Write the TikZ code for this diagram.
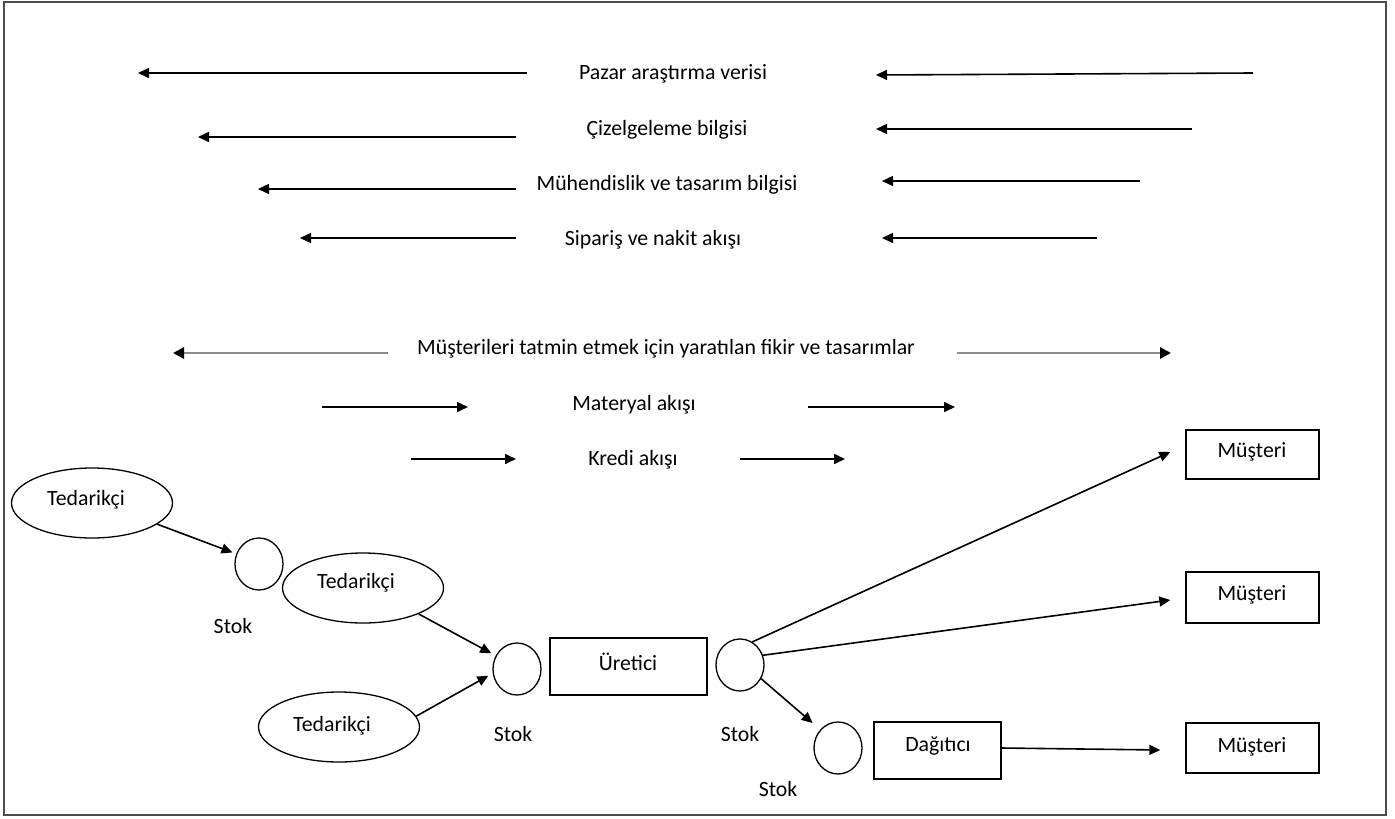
\documentclass[tikz,border=0pt]{standalone}
\usepackage{fontspec}
\setmainfont{Carlito}
\usetikzlibrary{arrows.meta,shapes.geometric}
\begin{document}
\begin{tikzpicture}[x=1pt,y=-1pt,
  every node/.style={font=\fontsize{21.8}{26}\selectfont, inner sep=0pt},
  flow/.style={line width=1.6pt, -{Triangle[length=11pt,width=10pt]}},
  softflow/.style={line width=2.8pt, draw=black!45, -{Triangle[length=11pt,width=11pt,black]}},
  party/.style={draw, ellipse, line width=1.3pt, minimum width=161pt, minimum height=70pt},
  stockpt/.style={draw, ellipse, line width=1.3pt, minimum width=48pt, minimum height=52pt},
  unit/.style={draw, rectangle, line width=1.4pt},
  lbl/.style={anchor=center}
]
\useasboundingbox (0,0) rectangle (1395,819);
\draw[line width=2.6pt, draw=black!70] (4,2) rectangle (1386,815);

% information flows running upstream
\node[lbl] (t1) at (673,74) {Pazar araştırma verisi};
\node[lbl] (t2) at (667,130) {Çizelgeleme bilgisi};
\node[lbl] (t3) at (667,185) {Mühendislik ve tasarım bilgisi};
\node[lbl] (t4) at (653,240) {Sipariş ve nakit akışı};
\coordinate (a1s) at (527,73);  \coordinate (a1e) at (138,73);
\coordinate (b1s) at (1253,73); \coordinate (b1e) at (876,75);
\coordinate (a2s) at (516,137); \coordinate (a2e) at (198,137);
\coordinate (b2s) at (1192,129); \coordinate (b2e) at (876,129);
\coordinate (a3s) at (516,189); \coordinate (a3e) at (258,189);
\coordinate (b3s) at (1140,181); \coordinate (b3e) at (882,181);
\coordinate (a4s) at (516,238); \coordinate (a4e) at (300,238);
\coordinate (b4s) at (1097,238); \coordinate (b4e) at (882,238);
\foreach \k in {1,2,3,4}{
  \draw[flow] (a\k s) -- (a\k e);
  \draw[flow] (b\k s) -- (b\k e);
}

% flows in both directions and downstream
\node[lbl] (t5) at (666,349) {Müşterileri tatmin etmek için yaratılan fikir ve tasarımlar};
\node[lbl] (t6) at (634,405) {Materyal akışı};
\node[lbl] (t7) at (633,460) {Kredi akışı};
\coordinate (c5s) at (388,353); \coordinate (c5e) at (173,353);
\coordinate (d5s) at (957,353); \coordinate (d5e) at (1171,353);
\draw[softflow] (c5s) -- (c5e);
\draw[softflow] (d5s) -- (d5e);
\coordinate (c6s) at (322,407); \coordinate (c6e) at (468,407);
\coordinate (d6s) at (808,407); \coordinate (d6e) at (955,407);
\coordinate (c7s) at (411,459); \coordinate (c7e) at (516,459);
\coordinate (d7s) at (740,459); \coordinate (d7e) at (845,459);
\foreach \k in {6,7}{
  \draw[flow] (c\k s) -- (c\k e);
  \draw[flow] (d\k s) -- (d\k e);
}

% supply chain
\node[party] (ted1) at (92,503) {};
\node at (86,500) {Tedarikçi};
\node[party] (ted2) at (363,588) {};
\node at (356,583) {Tedarikçi};
\node[party] (ted3) at (339,727) {};
\node at (332,726) {Tedarikçi};

\node[stockpt] (s1) at (259,564) {};
\node (s1l) at (233,626) {Stok};
\node[stockpt] (s2) at (517,669) {};
\node (s2l) at (513,734) {Stok};
\node[stockpt] (s3) at (740,665) {};
\node (s3l) at (740,734) {Stok};
\node[stockpt] (s4) at (838,748) {};
\node (s4l) at (778,789) {Stok};

\node[unit, minimum width=157pt, minimum height=57pt] (ur) at (628.5,666.5) {};
\node at (628,662) {Üretici};
\node[unit, minimum width=127pt, minimum height=57pt] (dg) at (937.5,750.5) {};
\node at (938,746) {Dağıtıcı};
\node[unit, minimum width=133pt, minimum height=49pt] (m1) at (1252.5,454.5) {};
\node at (1252,452) {Müşteri};
\node[unit, minimum width=133pt, minimum height=51pt] (m2) at (1252.5,597.5) {};
\node at (1252,595) {Müşteri};
\node[unit, minimum width=133pt, minimum height=50pt] (m3) at (1252.5,748) {};
\node at (1252,747) {Müşteri};

\draw[flow, shorten >=4pt] (ted1.-18) -- (s1.156);
\draw[flow, shorten >=5pt] (ted2.-25) -- (s2.148);
\draw[flow, shorten >=5pt] (ted3.8) -- (s2.190);
\draw[flow] (s3.62) -- ([xshift=-15pt,yshift=2.5pt]m1.west);
\draw[flow] (s3.23) -- ([xshift=-15pt,yshift=-2.5pt]m2.west);
\draw[flow, shorten >=10pt] (s3.-33) -- (s4.134);
\draw[flow] ([yshift=2.5pt]dg.east) -- ([xshift=-25pt,yshift=-2pt]m3.west);
\end{tikzpicture}
\end{document}
